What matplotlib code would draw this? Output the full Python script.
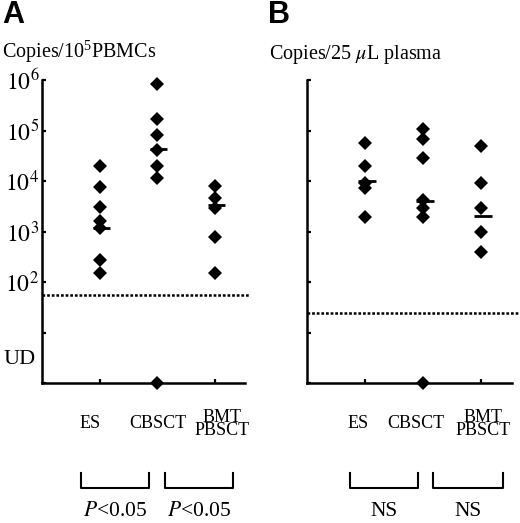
import numpy as np
import matplotlib
matplotlib.use("Agg")
import matplotlib.pyplot as plt
from matplotlib.ticker import NullLocator

plt.rcParams["font.family"] = ["Liberation Serif", "DejaVu Serif"]
plt.rcParams["mathtext.fontset"] = "stix"

UD = 1.0  # undetectable values sit on the baseline

groups = ["ES", "CBSCT", "BMT\nPBSCT"]

# panel A: copies / 10^5 PBMCs
pbmc_es = [2.0e4, 7.5e3, 3.0e3, 1.6e3, 1.15e3, 2.7e2, 1.5e2]
pbmc_cb = [8.2e5, 1.66e5, 8.3e4, 4.1e4, 2.0e4, 1.17e4, UD]
pbmc_bmt = [7.9e3, 4.7e3, 2.9e3, 7.7e2, 1.5e2]
pbmc_median = [1.2e3, 4.4e4, 3.3e3]
pbmc_cutoff = 55

# panel B: copies / 25 uL plasma
plasma_es = [5.7e4, 1.94e4, 9.3e3, 7.2e3, 1.94e3]
plasma_cb = [1.06e5, 6.9e4, 2.8e4, 4.3e3, 2.9e3, 1.94e3, UD]
plasma_bmt = [5.0e4, 9.2e3, 2.9e3, 9.6e2, 3.9e2]
plasma_median = [1.0e4, 4.1e3, 2.0e3]
plasma_cutoff = 24

yticks = [1, 10, 1e2, 1e3, 1e4, 1e5, 1e6]
ytick_labels_a = ["", "", "$10^2$", "$10^3$", "$10^4$", "$10^5$", "$10^6$"]
ytick_labels_b = [""] * len(yticks)

stats_a = ["$\\mathit{P}$<0.05", "$\\mathit{P}$<0.05"]
stats_b = ["NS", "NS"]

W, H = 520, 523
fig = plt.figure(figsize=(W / 100, H / 100), dpi=100)


def px_axes(x0, x1, y_top, y_bot):
    return fig.add_axes([x0 / W, 1 - y_bot / H, (x1 - x0) / W, (y_bot - y_top) / H])


def draw_panel(ax, series, medians, cutoff, labels, line_end):
    pos = np.arange(1, len(series) + 1)
    for p, vals in zip(pos, series):
        ax.plot([p] * len(vals), vals, "D", color="black", ms=6.8, mew=0,
                clip_on=False, zorder=4)
    ax.hlines(medians, pos - 0.12, pos + 0.18, color="black", lw=2, zorder=5)
    ax.axhline(cutoff, xmin=0, xmax=line_end, color="black", lw=1.8,
               ls=(0, (1.1, 0.75)), clip_on=False)
    ax.set_yscale("log")
    ax.set_ylim(1, 1e6)
    ax.set_xlim(0, 3.53)
    ax.set_yticks(yticks)
    ax.set_yticklabels(labels)
    ax.yaxis.set_minor_locator(NullLocator())
    ax.set_xticks(pos)
    ax.tick_params(axis="both", direction="in", length=3, width=1.6,
                   labelsize=17, pad=2, labelbottom=False)
    for s in ["top", "right"]:
        ax.spines[s].set_visible(False)
    for s in ["left", "bottom"]:
        ax.spines[s].set_linewidth(1.8)
    ax.patch.set_alpha(0)


ax_a = px_axes(42, 245, 80, 383)
draw_panel(ax_a, [pbmc_es, pbmc_cb, pbmc_bmt], pbmc_median, pbmc_cutoff,
           ytick_labels_a, 1.02)
ax_b = px_axes(307, 512, 80, 383)
draw_panel(ax_b, [plasma_es, plasma_cb, plasma_bmt], plasma_median, plasma_cutoff,
           ytick_labels_b, 1.05)

# annotation layer in pixel coordinates
ann = fig.add_axes([0, 0, 1, 1], zorder=-1)
ann.set_xlim(0, W)
ann.set_ylim(H, 0)
ann.axis("off")

ann.text(2, 15, "A", fontsize=22, fontweight="bold", family="Liberation Sans",
         va="center", ha="left")
ann.text(268, 15, "B", fontsize=22, fontweight="bold", family="Liberation Sans",
         va="center", ha="left")
ann.text(2, 52, "Copies/$\\mathregular{10^5}$PBMCs", fontsize=14.5, va="center")
ann.text(269, 54, "Copies/25 $\\mu$L plasma", fontsize=14.5, va="center")
ann.text(4, 360, "UD", fontsize=16, va="center", ha="left")

# group labels under each panel
label_x_a = [90, 158, 222]
label_x_b = [358, 416, 483]
for lx in (label_x_a, label_x_b):
    for x, g in zip(lx, groups):
        ann.text(x, 424, g, fontsize=13, ha="center", va="center",
                 linespacing=0.72)

# comparison brackets
brackets_a = [(81, 149), (165, 233)]
brackets_b = [(350, 418), (433, 503)]
for br, labs in ((brackets_a, stats_a), (brackets_b, stats_b)):
    for (x0, x1), lab in zip(br, labs):
        ann.plot([x0, x0, x1, x1], [473, 488, 488, 473], color="black", lw=1.5)
        ann.text((x0 + x1) / 2, 512, lab, fontsize=15.5, ha="center", va="center")

fig.savefig("out.png", dpi=100)
